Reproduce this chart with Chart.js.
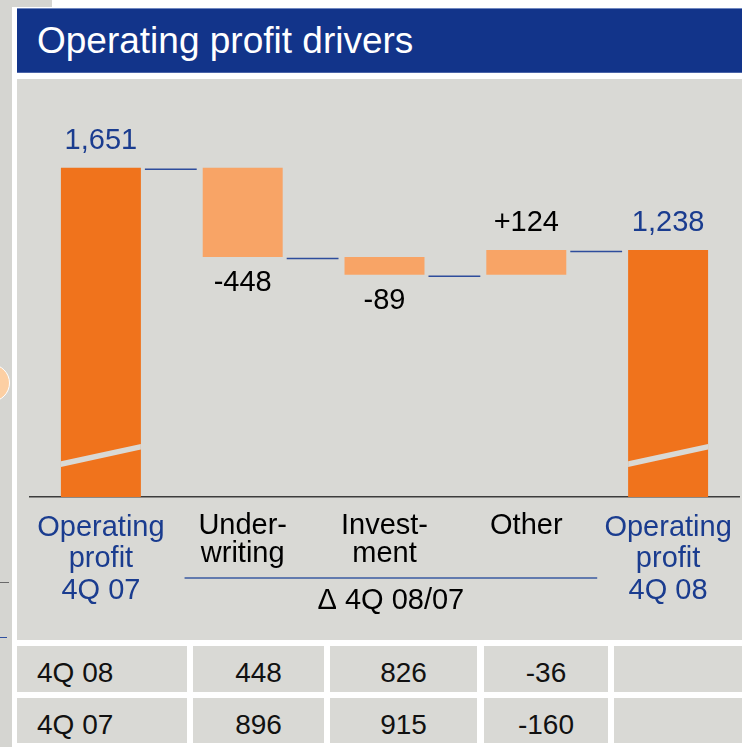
<!DOCTYPE html>
<html><head><meta charset="utf-8">
<script src="https://cdn.jsdelivr.net/npm/chart.js@4"></script>
<style>
html,body{margin:0;padding:0;background:#fff;width:742px;height:747px;overflow:hidden;font-family:'Liberation Sans',Arial,sans-serif;}
.abs{position:absolute;}
.cell{position:absolute;background:#d9d9d5;}
.ct{position:absolute;font-size:28px;line-height:32px;color:#111;white-space:nowrap;}
</style></head><body>
<div class="abs" style="left:0;top:0;width:12px;height:747px;background:#d5d5d1"></div>
<div class="abs" style="left:0;top:0;width:52px;height:7px;background:#d5d5d1"></div>
<div class="abs" style="left:-28px;top:364px;width:36px;height:36px;border-radius:50%;background:#fccfa3;border:1.5px solid #fff"></div>
<div class="abs" style="left:0;top:582px;width:9px;height:1px;background:#6a6a6a"></div>
<div class="abs" style="left:0;top:637px;width:7px;height:1px;background:#3050a0"></div>
<div class="abs" style="left:17px;top:8px;width:725px;height:65px;background:#12348a;box-sizing:border-box;border-top:1px solid #7088c0;border-bottom:1px solid #4a64a8"></div>
<div class="abs" style="left:37px;top:9px;height:63px;line-height:63px;font-size:37px;color:#fff;white-space:nowrap">Operating profit drivers</div>
<div class="abs" style="left:17px;top:79px;width:725px;height:561px;background:#d9d9d5"></div>
<canvas id="c" width="725" height="561" class="abs" style="left:17px;top:79px"></canvas>
<div id="table"></div>
<script>
// ---- data ----
const categories = [['Operating','profit','4Q 07'], ['Under-','writing'], ['Invest-','ment'], ['Other'], ['Operating','profit','4Q 08']];
const startValue = 1651;
const deltas = [-448, -89, 124];
const endValue = 1238;
const groupLabel = 'Δ 4Q 08/07';
const tableRowLabels = ['4Q 08', '4Q 07'];
const underwritingRow = [448, 896];
const investmentRow = [826, 915];
const otherRow = [-36, -160];

// ---- derived waterfall ranges ----
const ranges = [[0, startValue]];
const levels = [startValue];
let run = startValue;
deltas.forEach(d => { const nxt = run + d; ranges.push([Math.min(run, nxt), Math.max(run, nxt)]); run = nxt; levels.push(run); });
ranges.push([0, endValue]);
const isTotal = i => i === 0 || i === categories.length - 1;
const fmt = n => n.toLocaleString('en-US');
const valueLabels = [fmt(startValue), ...deltas.map(d => (d > 0 ? '+' : '') + fmt(d)), fmt(endValue)];

const BLUE = '#1a3c8f', ORANGE = '#f0731c', LIGHT = '#f8a466', PANEL = '#d9d9d5';
const FONT = '"Liberation Sans", Arial, sans-serif';

const decor = {
  id: 'decor',
  afterDatasetsDraw(chart) {
    const {ctx, chartArea, scales: {x, y}} = chart;
    const bars = chart.getDatasetMeta(0).data;
    ctx.save();
    // connectors
    ctx.strokeStyle = '#2e4d9c'; ctx.lineWidth = 1.5;
    for (let i = 0; i < bars.length - 1; i++) {
      const yy = y.getPixelForValue(levels[i]) + 1.5;
      const x0 = bars[i].x + bars[i].width / 2 + 4;
      const x1 = bars[i + 1].x - bars[i + 1].width / 2 - 6;
      ctx.beginPath(); ctx.moveTo(x0, yy); ctx.lineTo(x1, yy); ctx.stroke();
    }
    // axis break bands on total bars
    ctx.fillStyle = PANEL;
    bars.forEach((b, i) => {
      if (!isTotal(i)) return;
      const l = b.x - b.width / 2, r = b.x + b.width / 2;
      const yl = y.getPixelForValue(165), yr = y.getPixelForValue(252);
      ctx.beginPath();
      ctx.moveTo(l, yl - 2.8); ctx.lineTo(r, yr - 2.8); ctx.lineTo(r, yr + 2.8); ctx.lineTo(l, yl + 2.8);
      ctx.closePath(); ctx.fill();
    });
    // value labels
    ctx.font = '29px ' + FONT; ctx.textAlign = 'center'; ctx.textBaseline = 'alphabetic';
    bars.forEach((b, i) => {
      const [lo, hi] = ranges[i];
      const yTop = y.getPixelForValue(hi), yBot = y.getPixelForValue(lo);
      if (isTotal(i)) { ctx.fillStyle = BLUE; ctx.fillText(valueLabels[i], b.x, yTop - 19); }
      else if (deltas[i - 1] < 0) { ctx.fillStyle = '#000'; ctx.fillText(valueLabels[i], b.x, yBot + 34); }
      else { ctx.fillStyle = '#000'; ctx.fillText(valueLabels[i], b.x, yTop - 19); }
    });
    // group bracket
    const step = x.getPixelForValue(1) - x.getPixelForValue(0);
    const gl = x.getPixelForValue(1) - 0.41 * step, gr = x.getPixelForValue(3) + 0.5 * step;
    const gy = chartArea.bottom + 81;
    ctx.strokeStyle = '#3a5aa0'; ctx.lineWidth = 1.5;
    ctx.beginPath(); ctx.moveTo(gl, gy); ctx.lineTo(gr, gy); ctx.stroke();
    ctx.fillStyle = '#000';
    ctx.fillText(groupLabel, (gl + gr) / 2, chartArea.bottom + 112);
    ctx.restore();
  }
};

new Chart(document.getElementById('c'), {
  type: 'bar',
  data: {
    labels: categories,
    datasets: [{
      data: ranges,
      backgroundColor: categories.map((c, i) => isTotal(i) ? ORANGE : LIGHT),
      borderWidth: 0,
      barPercentage: 0.564,
      categoryPercentage: 1.0
    }]
  },
  options: {
    responsive: false,
    animation: false,
    devicePixelRatio: 1,
    layout: {padding: {top: 19, left: 13, right: 3, bottom: 0}},
    plugins: {legend: {display: false}, tooltip: {enabled: false}, title: {display: false}},
    scales: {
      x: {
        grid: {display: true, drawOnChartArea: false, drawTicks: true, tickLength: 15, color: 'rgba(0,0,0,0)'},
        border: {display: true, color: '#3c3c3c', width: 1.5},
        ticks: {
          padding: 0,
          autoSkip: false,
          maxRotation: 0,
          color: c => isTotal(c.index) ? BLUE : '#000',
          font: c => ({family: FONT, size: 29, lineHeight: isTotal(c.index) ? 31.5 / 29 : 28 / 29})
        },
        afterFit: s => { s.height = 143; }
      },
      y: {display: false, min: 0, max: 2000}
    }
  },
  plugins: [decor]
});

// ---- table ----
const colEdges = [[17, 187], [193, 324], [330, 477], [484, 608], [614, 742]];
const rowEdges = [[646, 692], [698, 743]];
const tbl = document.getElementById('table');
rowEdges.forEach(([t, b], r) => {
  const vals = [tableRowLabels[r], underwritingRow[r], investmentRow[r], otherRow[r], ''];
  colEdges.forEach(([l, rr], c) => {
    const cell = document.createElement('div');
    cell.className = 'cell';
    cell.style.cssText = `left:${l}px;top:${t}px;width:${rr - l}px;height:${b - t}px`;
    tbl.appendChild(cell);
    const tx = document.createElement('div');
    tx.className = 'ct';
    tx.textContent = String(vals[c]);
    if (c === 0) tx.style.cssText = `left:${l + 20}px;top:${t + 11}px`;
    else tx.style.cssText = `left:${l}px;width:${rr - l}px;text-align:center;top:${t + 11}px`;
    tbl.appendChild(tx);
  });
});
</script>
</body></html>
